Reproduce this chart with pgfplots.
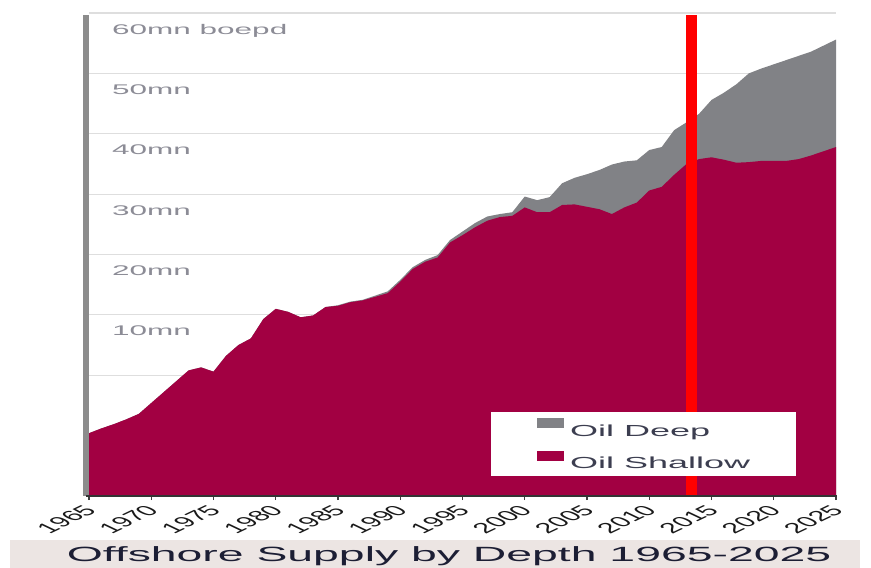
\documentclass[border=0pt]{standalone}
\usepackage{fontspec}
\setmainfont{Liberation Sans}
\newfontfamily\widefont[FakeStretch=2.25]{Liberation Sans}
\usepackage{pgfplots}
\usepackage{pgfplotstable}
\pgfplotsset{compat=1.18}
\definecolor{shallow}{RGB}{162,0,66}
\definecolor{deep}{RGB}{129,130,134}
\definecolor{gridc}{RGB}{222,222,222}
\definecolor{leftax}{RGB}{140,140,140}
\definecolor{titlebg}{RGB}{236,229,227}
\definecolor{titletext}{RGB}{28,30,52}
\definecolor{ylab}{RGB}{140,140,150}
\definecolor{legtext}{RGB}{60,62,80}

% shallow = Oil Shallow; total = Oil Shallow + Oil Deep (top of the stack)
\pgfplotstableread{
year shallow total
1965 10.4 10.4
1966 11.2 11.2
1967 11.9 11.9
1968 12.7 12.7
1969 13.6 13.6
1970 15.4 15.4
1971 17.2 17.2
1972 19.0 19.0
1973 20.8 20.8
1974 21.3 21.3
1975 20.6 20.6
1976 23.2 23.2
1977 25.0 25.0
1978 26.1 26.1
1979 29.3 29.3
1980 31.0 31.0
1981 30.5 30.5
1982 29.6 29.6
1983 29.9 29.9
1984 31.3 31.3
1985 31.5 31.6
1986 32.1 32.2
1987 32.4 32.5
1988 33.0 33.2
1989 33.6 33.9
1990 35.5 35.8
1991 37.6 37.9
1992 38.8 39.1
1993 39.5 39.9
1994 42.0 42.4
1995 43.2 43.8
1996 44.5 45.2
1997 45.6 46.3
1998 46.2 46.7
1999 46.4 47.0
2000 47.8 49.6
2001 47.0 49.0
2002 47.0 49.5
2003 48.2 51.8
2004 48.3 52.7
2005 47.9 53.3
2006 47.5 54.0
2007 46.7 54.9
2008 47.8 55.4
2009 48.6 55.6
2010 50.6 57.3
2011 51.2 57.8
2012 53.2 60.6
2013 55.0 61.9
2014 55.8 63.3
2015 56.1 65.6
2016 55.7 66.8
2017 55.2 68.2
2018 55.3 70.0
2019 55.5 70.8
2020 55.5 71.5
2021 55.5 72.2
2022 55.8 72.9
2023 56.4 73.6
2024 57.1 74.6
2025 57.8 75.6
}\datatable

\begin{document}
\begin{tikzpicture}
\useasboundingbox (0pt,0pt) rectangle (871pt,568pt);
\fill[titlebg] (10pt,0pt) rectangle (860pt,28pt);
\node[anchor=base, text=titletext, font=\widefont\fontsize{20.6}{24}\selectfont, inner sep=0pt] at (449pt,6pt) {Offshore Supply by Depth 1965-2025};
\begin{axis}[
  at={(89pt,72pt)}, anchor=south west,
  scale only axis, width=747pt, height=483pt,
  xmin=1965, xmax=2025, ymin=0, ymax=80,
  clip=false,
  axis line style={draw=none},
  xtick={1965,1970,...,2025},
  ytick={0,10,...,80},
  yticklabels={{},{},{},10mn,20mn,30mn,40mn,50mn,60mn boepd},
  ymajorgrids, grid style={gridc, line width=1.2pt},
  tick align=outside, xtick pos=bottom, ytick pos=left,
  major tick length=4pt,
  xtick style={black!75, line width=1.2pt},
  ytick style={draw=none},
  xticklabel style={/pgf/number format/1000 sep={}, /pgf/number format/assume math mode=true, font=\fontsize{14.5}{17}\selectfont, text=black!90, inner sep=1pt, yshift=-7pt, xshift=3pt, xscale=2.1, rotate=45, anchor=east},
  yticklabel style={font=\widefont\fontsize{14}{17}\selectfont, text=ylab, anchor=north west, inner sep=0pt, xshift=27pt, yshift=-11pt},
  legend style={at={(0.538,0.174)}, anchor=north west, fill=white, draw=none, inner xsep=46pt, inner ysep=6pt, row sep=13pt, column sep=6pt, font=\widefont\fontsize{16}{19}\selectfont, text=legtext, nodes={inner sep=0pt}},
  legend cell align=left,
]
\addplot[fill=deep, draw=none, legend image code/.code={\fill[deep] (0pt,3pt) rectangle (27pt,13pt);}] table[x=year,y=total]{\datatable} \closedcycle;
\addlegendentry{Oil Deep}
\addplot[fill=shallow, draw=none, legend image code/.code={\fill[shallow] (0pt,3pt) rectangle (27pt,13pt);}] table[x=year,y=shallow]{\datatable} \closedcycle;
\addlegendentry{Oil Shallow}
\draw[red, line width=11pt] (axis cs:2013.43,0) -- (axis cs:2013.43,79.7);
\draw[leftax, line width=6pt] ([xshift=-3pt]axis cs:1965,0) -- ([xshift=-3pt]axis cs:1965,79.6);
\draw[black!80, line width=1.5pt] ([xshift=-3pt]axis cs:1965,0) -- ([xshift=1pt]axis cs:2025,0);
\end{axis}
\end{tikzpicture}
\end{document}
